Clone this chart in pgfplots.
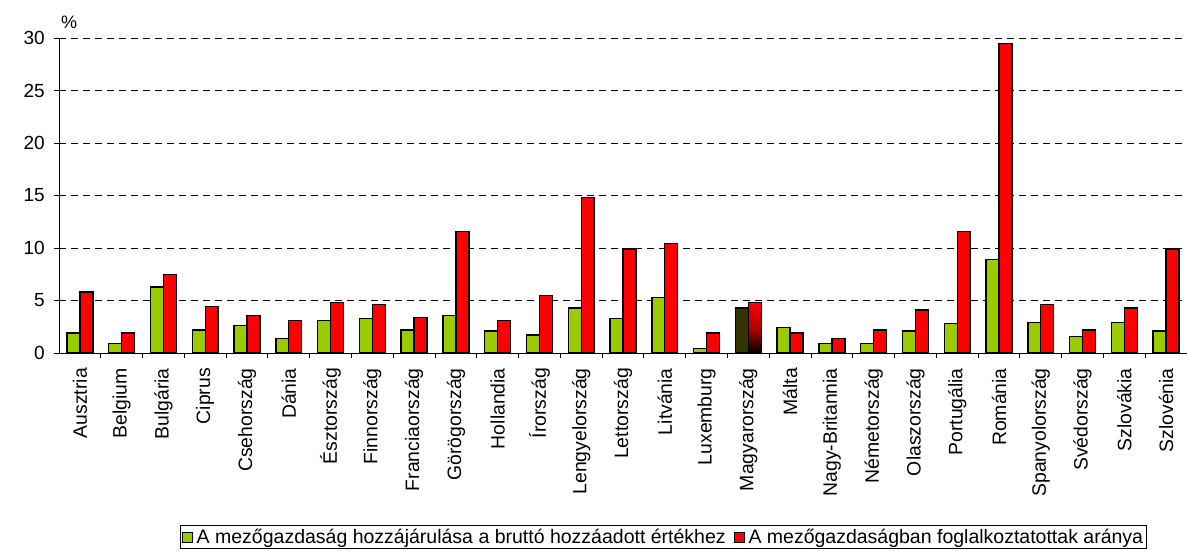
\documentclass[border=0pt]{standalone}
\usepackage{pgfplots}
\pgfplotsset{compat=1.18}
\usepackage{fontspec}
\setmainfont{Liberation Sans}
\definecolor{cgreen}{HTML}{99CC00}
\definecolor{cred}{HTML}{FF0000}
\definecolor{cdark}{HTML}{333300}
\begin{document}
\begin{tikzpicture}
\path[use as bounding box] (-59bp,-198bp) rectangle (1128bp,353bp);
\begin{axis}[
  scale only axis,
  width=1128bp, height=315bp,
  xmin=-0.5, xmax=26.5,
  ymin=0, ymax=30,
  ytick={0,5,...,30},
  xtick={0,...,26},
  xticklabels={Ausztria,Belgium,Bulgária,Ciprus,Csehország,Dánia,Észtország,Finnország,Franciaország,Görögország,Hollandia,Írország,Lengyelország,Lettország,Litvánia,Luxemburg,Magyarország,Málta,Nagy-Britannia,Németország,Olaszország,Portugália,Románia,Spanyolország,Svédország,Szlovákia,Szlovénia},
  x tick label style={rotate=90, anchor=east, font=\fontsize{19.4bp}{22bp}\selectfont, inner sep=0pt},
  xticklabel shift=10bp,
  y tick label style={font=\fontsize{19bp}{21bp}\selectfont, inner sep=0pt},
  yticklabel shift=9bp,
  /pgf/number format/assume math mode=true,
  minor xtick={0.5,1.5,...,25.5},
  major x tick style={draw=none},
  minor x tick style={black, line width=0.8pt},
  y tick style={black, line width=0.8pt},
  tick align=outside,
  major tick length=5bp,
  minor tick length=5bp,
  axis x line*=bottom,
  axis y line*=left,
  axis line style={black, line width=0.9pt, -},
  ymajorgrids,
  grid style={black, dash pattern=on 7bp off 5bp, line width=0.6pt},
  ybar,
  bar width=0.31,
  clip=false,
  legend columns=2,
  legend style={at={(rel axis cs:0.9645,-0.622)}, anchor=south east, draw=black, line width=0.7pt, font=\fontsize{19.5bp}{22bp}\selectfont, inner sep=1.5bp, row sep=0pt, /tikz/every even column/.append style={column sep=6bp}, /tikz/every odd column/.append style={column sep=2bp}},
  legend image code/.code={\draw[#1, line width=0.8pt] (0bp,-5bp) rectangle (10bp,5bp);},
]
\addplot[fill=cgreen, draw=black, line width=1.4pt, bar shift=-0.155] coordinates {
(0,1.9) (1,0.9) (2,6.3) (3,2.2) (4,2.6) (5,1.4) (6,3.1) (7,3.3) (8,2.2) (9,3.6)
(10,2.1) (11,1.7) (12,4.3) (13,3.3) (14,5.3) (15,0.4) (16,4.3) (17,2.4) (18,0.9) (19,0.9)
(20,2.1) (21,2.8) (22,8.9) (23,2.9) (24,1.6) (25,2.9) (26,2.1)};
\addplot[fill=cred, draw=black, line width=1.4pt, bar shift=0.155] coordinates {
(0,5.8) (1,1.9) (2,7.5) (3,4.4) (4,3.6) (5,3.1) (6,4.8) (7,4.6) (8,3.4) (9,11.6)
(10,3.1) (11,5.5) (12,14.8) (13,9.9) (14,10.4) (15,1.9) (16,4.8) (17,1.9) (18,1.4) (19,2.2)
(20,4.1) (21,11.6) (22,29.5) (23,4.6) (24,2.2) (25,4.3) (26,9.9)};
\addplot[fill=cdark, draw=black, line width=1.4pt, bar shift=-0.155, forget plot] coordinates {(16,4.3)};
\addplot[top color=cred, bottom color=black, middle color=cred!70!black, draw=black, line width=1.4pt, bar shift=0.155, forget plot] coordinates {(16,4.8)};
\legend{A mezőgazdaság hozzájárulása a bruttó hozzáadott értékhez, A mezőgazdaságban foglalkoztatottak aránya}
\node[anchor=south west, font=\fontsize{18bp}{20bp}\selectfont, inner sep=0pt] at ([xshift=2bp,yshift=9bp]rel axis cs:0,1) {\%};
\end{axis}
\end{tikzpicture}
\end{document}
